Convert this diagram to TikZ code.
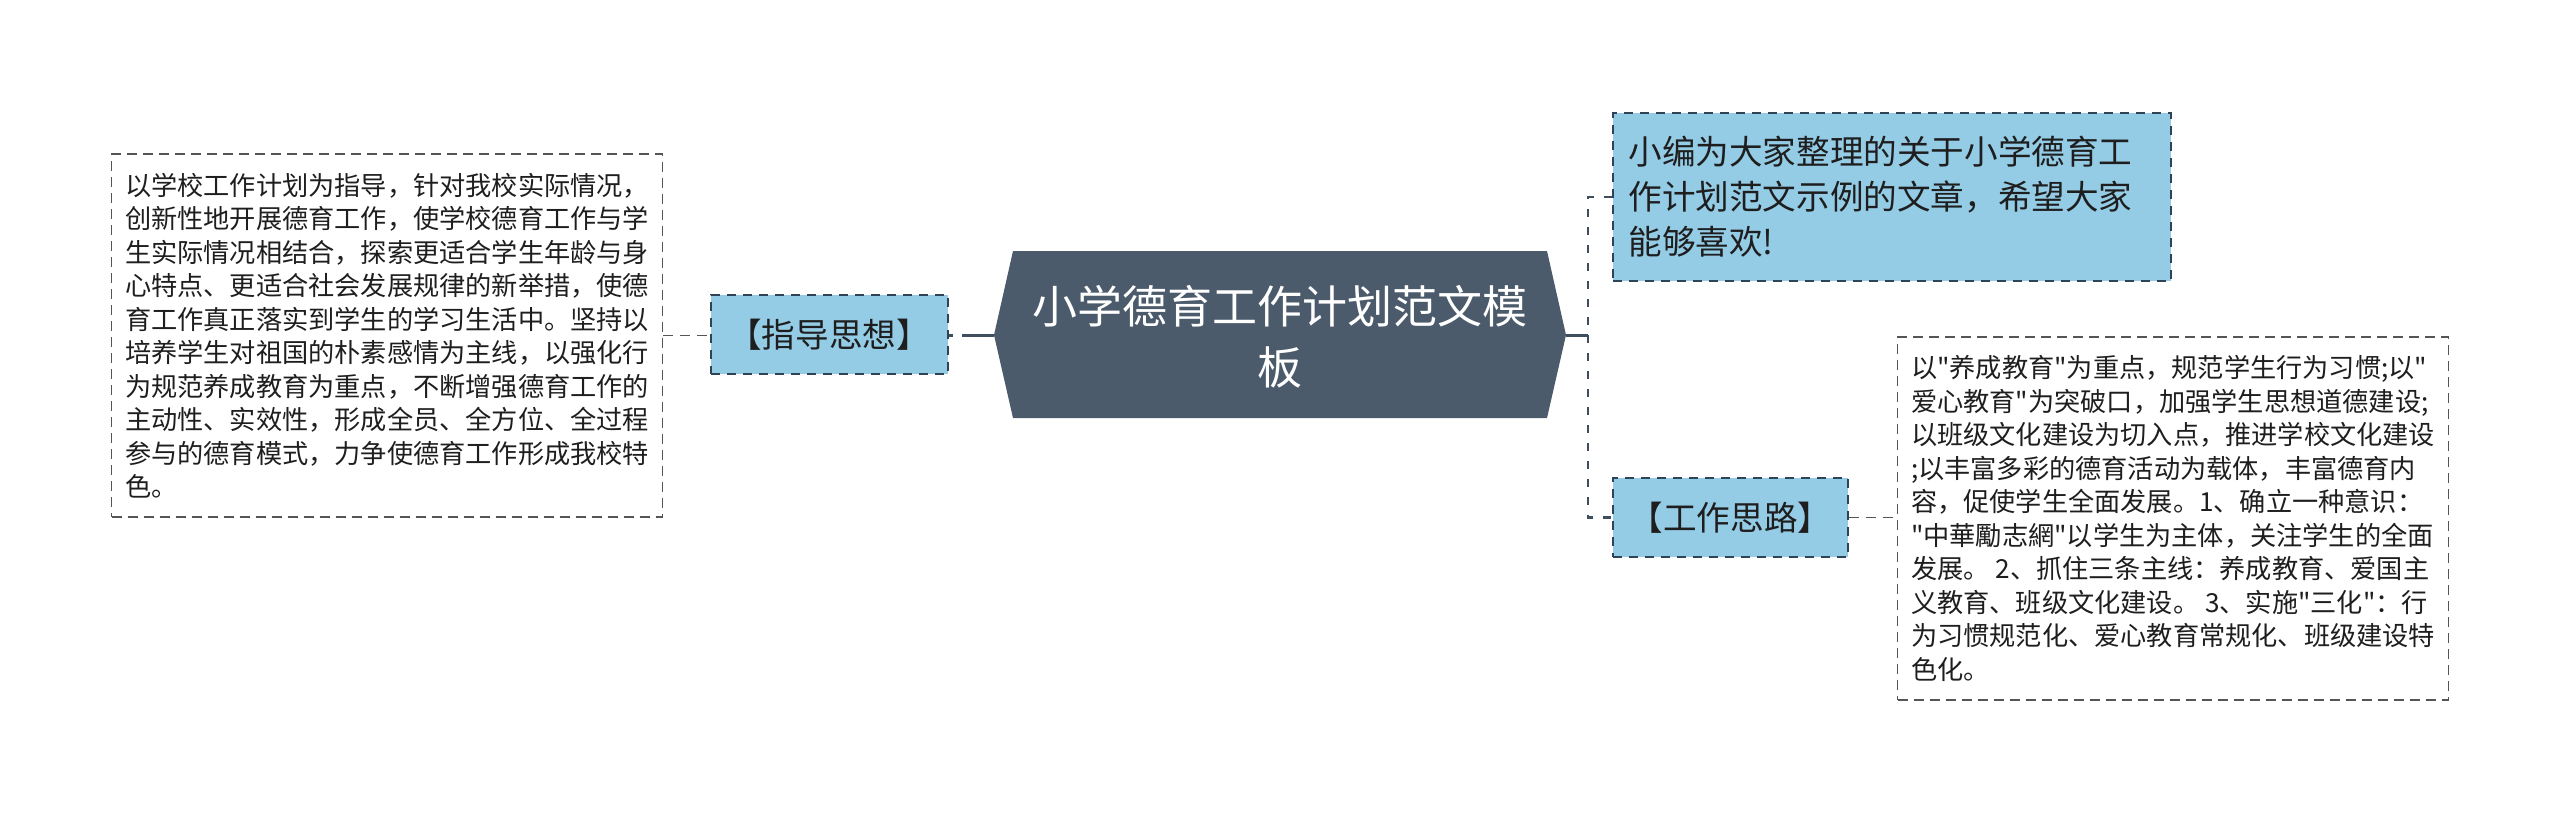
\documentclass[tikz,border=0pt]{standalone}
\usepackage{fontspec}
\newfontfamily\cjk{Noto Sans CJK SC}
\definecolor{hexfill}{HTML}{4B5B6B}
\definecolor{linec}{HTML}{3F4E5C}
\definecolor{bluefill}{HTML}{94CBE5}
\definecolor{blueedge}{HTML}{2F4356}
\definecolor{grayedge}{HTML}{555555}
\definecolor{txt}{HTML}{1E1E1E}
\tikzset{
  textbox/.style={draw=grayedge, line width=1.6pt, dash pattern=on 10pt off 6pt, fill=white,
    align=left, text=txt, inner sep=0pt, minimum width=551pt, minimum height=363pt,
    font=\cjk\fontsize{26.2}{33.5}\selectfont},
  bluebox/.style={draw=blueedge, line width=2pt, dash pattern=on 9pt off 7pt, fill=bluefill,
    text=txt, inner sep=0pt, font=\cjk\fontsize{33.6}{45}\selectfont},
  thinconn/.style={draw=grayedge, line width=1.6pt, dash pattern=on 10pt off 7pt},
  boldconn/.style={draw=linec, line width=3pt},
  dashconn/.style={draw=linec, line width=2.6pt, dash pattern=on 8pt off 10pt},
}
\begin{document}
\begin{tikzpicture}[x=1pt,y=-1pt]
\useasboundingbox[fill=white] (0,0) rectangle (2560,812);
% central hexagon
\coordinate (hexL) at (994,335);
\coordinate (hexR) at (1566,335);
\fill[hexfill] (hexL) -- (1013,251) -- (1547,251) -- (hexR) -- (1547,418) -- (1013,418) -- cycle;
\node[text=white, align=center, font=\cjk\fontsize{45}{61}\selectfont] (title) at (1280,337)
  {小学德育工作计划范文模\\板};
% left branch
\node[bluebox, minimum width=237pt, minimum height=79pt] (zd) at (829,334.5) {【指导思想】};
\node[textbox] (lt) at (387,335.5) {以学校工作计划为指导，针对我校实际情况，\\
创新性地开展德育工作，使学校德育工作与学\\
生实际情况相结合，探索更适合学生年龄与身\\
心特点、更适合社会发展规律的新举措，使德\\
育工作真正落实到学生的学习生活中。坚持以\\
培养学生对祖国的朴素感情为主线，以强化行\\
为规范养成教育为重点，不断增强德育工作的\\
主动性、实效性，形成全员、全方位、全过程\\
参与的德育模式，力争使德育工作形成我校特\\
色。};
% right branch
\node[bluebox, minimum width=558pt, minimum height=168pt, text width=527pt, align=left] (tr) at (1892,196.8)
  {小编为大家整理的关于小学德育工\\作计划范文示例的文章，希望大家\\能够喜欢!};
\node[bluebox, minimum width=235pt, minimum height=79pt] (gz) at (1730.5,517.5) {【工作思路】};
\node[textbox] (rt) at (2173,518.5) {以"养成教育"为重点，规范学生行为习惯;以"\\
爱心教育"为突破口，加强学生思想道德建设;\\
以班级文化建设为切入点，推进学校文化建设\\
;以丰富多彩的德育活动为载体，丰富德育内\\
容，促使学生全面发展。1、确立一种意识：\\
"中華勵志網"以学生为主体，关注学生的全面\\
发展。 2、抓住三条主线：养成教育、爱国主\\
义教育、班级文化建设。 3、实施"三化"：行\\
为习惯规范化、爱心教育常规化、班级建设特\\
色化。};
% connectors
\coordinate (jn) at (1588,335);
\draw[boldconn, dash pattern=on 32pt off 9pt] (hexL) -- (hexL -| zd.east);
\draw[thinconn] (lt.east) -- (lt.east -| zd.west);
\draw[boldconn] (hexR) -- (jn);
\draw[dashconn] (tr.west) -| (jn) |- (gz.west);
\draw[thinconn] (gz.east) -- (gz.east -| rt.west);
\end{tikzpicture}
\end{document}
